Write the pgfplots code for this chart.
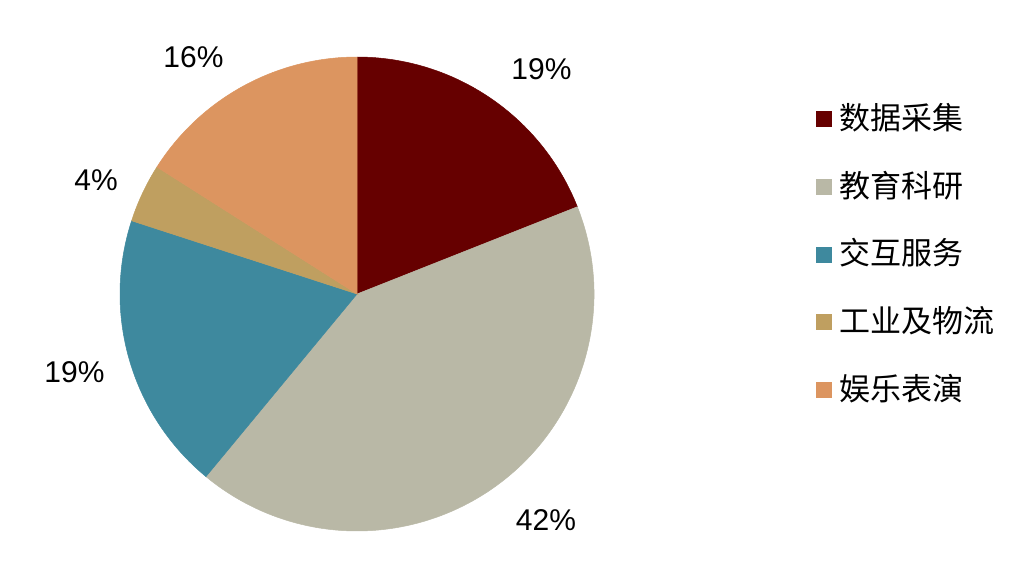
\documentclass[border=0pt]{standalone}
\usepackage{pgfplots}
\pgfplotsset{compat=1.18}
\usepackage{pgfplotstable}
\usepackage{fontspec}
\setmainfont{Liberation Sans}
\newfontfamily\cjk{Noto Sans CJK SC}
\definecolor{cA}{RGB}{102,0,0}
\definecolor{cB}{RGB}{185,184,166}
\definecolor{cC}{RGB}{62,137,158}
\definecolor{cD}{RGB}{191,159,96}
\definecolor{cE}{RGB}{220,149,96}

% share in %, slice colour, label position (px, baseline)
\pgfplotstableread[col sep=comma]{
name,share,colour,lx,ly
数据采集,19,cA,541.5,79
教育科研,42,cB,546,530
交互服务,19,cC,74.5,382
工业及物流,4,cD,96,190
娱乐表演,16,cE,193.5,67
}\piedata

\begin{document}
\begin{tikzpicture}
\useasboundingbox (0,0) rectangle (1028pt,568pt);
\begin{axis}[
    hide axis, scale only axis,
    width=1028pt, height=568pt,
    xmin=0, xmax=1028, ymin=0, ymax=568,
    y dir=reverse, clip=false,
  ]
  \pgfplotstablegetrowsof{\piedata}
  \pgfmathtruncatemacro\lastrow{\pgfplotsretval-1}
  \xdef\startang{90}
  \foreach \i in {0,...,\lastrow}{
    \pgfplotstablegetelem{\i}{name}\of\piedata \let\name\pgfplotsretval
    \pgfplotstablegetelem{\i}{share}\of\piedata \let\share\pgfplotsretval
    \pgfplotstablegetelem{\i}{colour}\of\piedata \let\col\pgfplotsretval
    \pgfplotstablegetelem{\i}{lx}\of\piedata \let\lx\pgfplotsretval
    \pgfplotstablegetelem{\i}{ly}\of\piedata \let\ly\pgfplotsretval
    \pgfmathsetmacro\endang{\startang-3.6*\share}
    \pgfmathsetmacro\legy{119+67.75*\i}
    \edef\slice{%
      \noexpand\fill[\col, draw=\col, line width=0.5pt] (axis cs:357,294) -- ++(\startang:237pt)
        arc[start angle=\startang, end angle=\endang, radius=237pt] -- cycle;
      \noexpand\node[anchor=base, inner sep=0pt, font=\noexpand\fontsize{30}{36}\noexpand\selectfont]
        at (axis cs:\lx,\ly) {\share\noexpand\%};
      \noexpand\fill[\col] (axis cs:816,\legy) ++(0pt,-8pt) rectangle ++(16pt,16pt);
      \noexpand\node[anchor=west, inner sep=0pt, font=\noexpand\fontsize{31}{37}\noexpand\selectfont\noexpand\cjk]
        at (axis cs:839,\legy-1.5) {\name};
    }
    \slice
    \xdef\startang{\endang}
  }
\end{axis}
\end{tikzpicture}
\end{document}
